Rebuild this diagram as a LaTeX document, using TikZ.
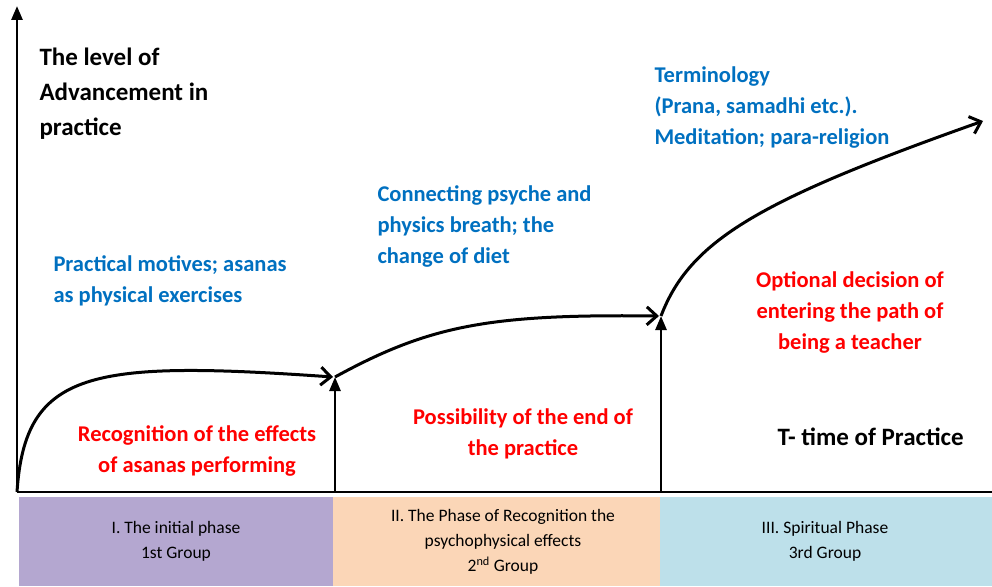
\documentclass[tikz,border=0pt]{standalone}
\usepackage{fontspec}
\setmainfont{Carlito}
\usetikzlibrary{arrows.meta}
\definecolor{txtblue}{RGB}{0,112,192}
\definecolor{phaseA}{RGB}{180,167,208}
\definecolor{phaseB}{RGB}{251,214,183}
\definecolor{phaseC}{RGB}{189,224,234}
\begin{document}
\begin{tikzpicture}[x=1pt, y=-1pt, line width=3pt,
   axis_style/.style={draw=black, line width=2.6pt, -{Triangle[length=14pt,width=11pt]}},
   curve_style/.style={draw=black, line width=3pt, -{Straight Barb[length=10pt,width=18pt,line width=3pt]}},
   note_style/.style={inner sep=0pt, font=\fontsize{22.5}{31}\selectfont\bfseries},
   head_style/.style={inner sep=0pt, font=\fontsize{25}{35}\selectfont\bfseries},
   phase_style/.style={inner sep=0pt, align=center, font=\fontsize{17.5}{25}\selectfont}]
	  \useasboundingbox (0,0) rectangle (992,586);

	  % phases
	  \fill [phaseA] (19,497) rectangle (333,586);
	  \fill [phaseB] (333,497) rectangle (660,586);
	  \fill [phaseC] (660,497) rectangle (992,586);
	  \node [phase_style] (ph1) at (176,541) {I. The initial phase\\1st Group};
	  \node [phase_style] (ph2) at (503,542) {II. The Phase of Recognition the\\psychophysical effects\\2\textsuperscript{nd} Group};
	  \node [phase_style] (ph3) at (825,541) {III. Spiritual Phase\\3rd Group};

	  % axes
	  \coordinate (o) at (17,492);
	  \coordinate (ytop) at (17,6);
	  \coordinate (xend) at (1006,492);
	  \coordinate (s1) at (335,377);
	  \coordinate (s2) at (661,316);
	  \coordinate (s3) at (983,121);
	  \draw [axis_style] (o) -- (ytop);
	  \draw [axis_style] (o) -- (xend);
	  \foreach \step in {s1,s2}
	    \draw [axis_style] (\step |- o) -- (\step);

	  % growth
	  \draw [curve_style] (o) .. controls (25,370) and (90,360) .. ([xshift=-2pt]s1);
	  \draw [curve_style] (s1) .. controls (430,325) and (490,314) .. ([xshift=-2pt]s2);
	  \draw [curve_style] (s2) .. controls (690,240) and (760,200) .. (s3);

	  % labels
	  \node [head_style, anchor=north west, align=left] (lvl) at (38,46) {The level of\\Advancement in\\practice};
	  \node [note_style, anchor=north west, align=left, text=txtblue] (m1) at (52,254) {Practical motives; asanas\\as physical exercises};
	  \node [note_style, anchor=north west, align=left, text=txtblue] (m2) at (376,184) {Connecting psyche and\\physics breath; the\\change of diet};
	  \node [note_style, anchor=north west, align=left, text=txtblue] (m3) at (653,65) {Terminology\\(Prana, samadhi etc.).\\Meditation; para-religion};
	  \node [note_style, anchor=north, align=center, text=red] (r1) at (197,424) {Recognition of the effects\\of asanas performing};
	  \node [note_style, anchor=north, align=center, text=red] (r2) at (523,407) {Possibility of the end of\\the practice};
	  \node [note_style, anchor=north, align=center, text=red] (r3) at (850,270) {Optional decision of\\entering the path of\\being a teacher};
	  \node [head_style, anchor=north west] (tm) at (776,426) {T- time of Practice};

	\end{tikzpicture}
\end{document}
